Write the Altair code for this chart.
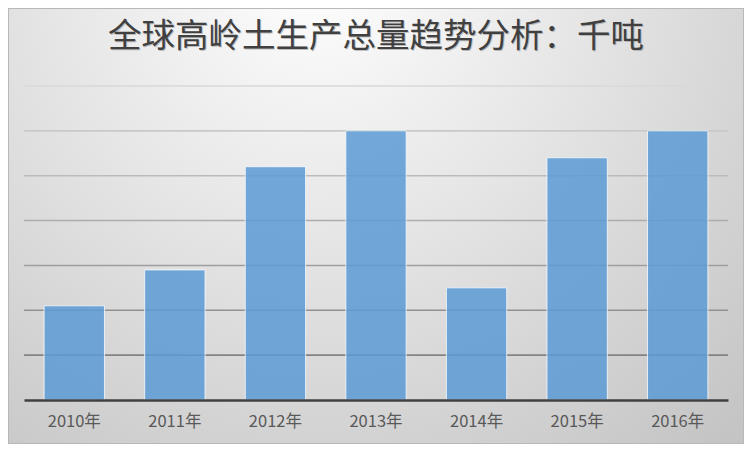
import altair as alt
import pandas as pd

years = ["2010年", "2011年", "2012年", "2013年", "2014年", "2015年", "2016年"]
values = [2100, 2900, 5200, 6000, 2500, 5400, 6000]
grid_values = [1000, 2000, 3000, 4000, 5000, 6000, 7000]
title_text = "全球高岭土生产总量趋势分析：千吨"

W, H = 704, 314
PAD = {"left": 16, "top": 78, "right": 16, "bottom": 44}

df = pd.DataFrame({"year": years, "value": values})
grid_df = pd.DataFrame({"g": grid_values})

y_scale = alt.Scale(domain=[0, 7000], nice=False, zero=True)
x_enc = alt.X("year:N", sort=years, title=None,
              scale=alt.Scale(paddingInner=0.4, paddingOuter=0.2),
              axis=alt.Axis(labelAngle=0, labelFontSize=16.5, labelColor="#595959",
                            labelFont="Noto Sans CJK SC", labelPadding=13,
                            ticks=False, domainColor="#404040", domainWidth=2.5,
                            grid=False, zindex=1))

bg = alt.Chart(alt.Data(values=[{"a": 1}])).mark_rect(
    fill=alt.RadialGradient(
        gradient="radial",
        x1=0.42, y1=0.15, r1=0.0,
        x2=0.42, y2=0.15, r2=0.85,
        stops=[alt.GradientStop(offset=0, color="#ffffff"),
               alt.GradientStop(offset=1, color="#c4c4c4")],
    ),
    stroke="#b8b8b8", strokeWidth=2,
).encode(
    x=alt.value(-PAD["left"]), x2=alt.value(W + PAD["right"]),
    y=alt.value(-PAD["top"]), y2=alt.value(H + PAD["bottom"]),
)

title_df = alt.Data(values=[{"t": title_text}])
title_shadow = alt.Chart(title_df).mark_text(
    font="Noto Sans CJK SC", fontSize=33.5, color="#9a9a9a", opacity=0.6,
    align="center", baseline="middle", dx=1, dy=1,
).encode(text="t:N", x=alt.value(W / 2), y=alt.value(-49))
title_mark = alt.Chart(title_df).mark_text(
    font="Noto Sans CJK SC", fontSize=33.5, color="#404040",
    align="center", baseline="middle",
).encode(text="t:N", x=alt.value(W / 2), y=alt.value(-49))

rules = alt.Chart(grid_df).mark_rule(strokeWidth=1.6).encode(
    y=alt.Y("g:Q", scale=y_scale, axis=None),
    stroke=alt.Stroke("g:Q", scale=alt.Scale(domain=[1000, 7000], range=["#838383", "#d8d8d8"]),
                      legend=None),
)

bars = alt.Chart(df).mark_bar(
    fill="#5b9bd5", fillOpacity=0.85, stroke="#ffffff", strokeOpacity=0.75, strokeWidth=1,
).encode(
    x=x_enc,
    y=alt.Y("value:Q", scale=y_scale, axis=None),
)

chart = alt.layer(bg, title_shadow, title_mark, rules, bars).properties(
    width=W, height=H,
    padding=PAD,
    autosize=alt.AutoSizeParams(type="none"),
).configure_view(stroke=None).configure(background="#ffffff")

chart.save("out.html", embed_options={"renderer": "svg", "actions": False})
